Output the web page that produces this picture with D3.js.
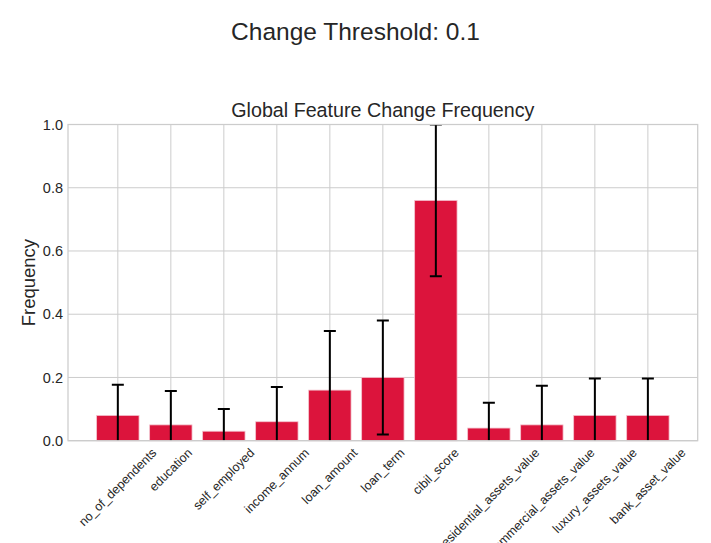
<!DOCTYPE html>
<html>
<head>
<meta charset="utf-8">
<script src="https://cdn.jsdelivr.net/npm/d3@7"></script>
<style>
  html, body { margin: 0; padding: 0; background: #fff; }
  svg { display: block; font-family: "Liberation Sans", Arial, sans-serif; }
</style>
</head>
<body>
<svg id="chart" width="711" height="543"></svg>
<script>
const categories = ["no_of_dependents", "education", "self_employed", "income_annum", "loan_amount",
  "loan_term", "cibil_score", "residential_assets_value", "commercial_assets_value",
  "luxury_assets_value", "bank_asset_value"];
const frequency = [0.08, 0.05, 0.03, 0.06, 0.16, 0.20, 0.76, 0.04, 0.05, 0.08, 0.08];
const stdDev = [0.097, 0.107, 0.07, 0.11, 0.187, 0.18, 0.24, 0.08, 0.124, 0.117, 0.117];
const yTicks = [0.0, 0.2, 0.4, 0.6, 0.8, 1.0];
const suptitle = "Change Threshold: 0.1";
const title = "Global Feature Change Frequency";
const yLabel = "Frequency";

const svg = d3.select("#chart");
const pLeft = 68, pRight = 697.7, pTop = 124.5, pBottom = 440.7;
const textColor = "#262626", gridColor = "#cccccc";

const x = d3.scaleBand().domain(categories).range([pLeft, pRight]).paddingInner(0.2).paddingOuter(0.54);
const y = d3.scaleLinear().domain([0, 1]).range([pBottom, pTop]);

svg.append("defs").append("clipPath").attr("id", "plotclip")
  .append("rect").attr("x", pLeft).attr("y", pTop).attr("width", pRight - pLeft).attr("height", pBottom - pTop);

// grid
const g = svg.append("g");
g.selectAll(".hgrid").data(yTicks).enter().append("line")
  .attr("x1", pLeft).attr("x2", pRight).attr("y1", d => y(d)).attr("y2", d => y(d))
  .attr("stroke", gridColor).attr("stroke-width", 1);
g.selectAll(".vgrid").data(categories).enter().append("line")
  .attr("x1", d => x(d) + x.bandwidth() / 2).attr("x2", d => x(d) + x.bandwidth() / 2)
  .attr("y1", pTop).attr("y2", pBottom)
  .attr("stroke", gridColor).attr("stroke-width", 1);

// bars
g.selectAll(".bar").data(categories).enter().append("rect")
  .attr("x", d => x(d)).attr("width", x.bandwidth())
  .attr("y", (d, i) => y(frequency[i])).attr("height", (d, i) => y(0) - y(frequency[i]))
  .attr("fill", "#dc143c").attr("stroke", "#f4c4cf").attr("stroke-width", 0.8);

// error bars
const eb = svg.append("g").attr("clip-path", "url(#plotclip)");
categories.forEach((c, i) => {
  const cx = x(c) + x.bandwidth() / 2;
  const lo = y(frequency[i] - stdDev[i]), hi = y(frequency[i] + stdDev[i]);
  eb.append("line").attr("x1", cx).attr("x2", cx).attr("y1", lo).attr("y2", hi)
    .attr("stroke", "#000").attr("stroke-width", 2);
  [lo, hi].forEach(yy => eb.append("line").attr("x1", cx - 6).attr("x2", cx + 6)
    .attr("y1", yy).attr("y2", yy).attr("stroke", "#000").attr("stroke-width", 2));
});

// spines
svg.append("rect").attr("x", pLeft).attr("y", pTop).attr("width", pRight - pLeft).attr("height", pBottom - pTop)
  .attr("fill", "none").attr("stroke", gridColor).attr("stroke-width", 1.25);

// y axis labels
const yAxis = d3.axisLeft(y).tickValues(yTicks).tickFormat(d3.format(".1f")).tickSize(0).tickPadding(5);
const ya = svg.append("g").attr("transform", `translate(${pLeft},0)`).call(yAxis);
ya.select(".domain").remove();
ya.selectAll("text").attr("font-size", 14.5).attr("fill", textColor)
  .attr("font-family", "Liberation Sans, Arial, sans-serif");

// x axis labels (rotated 45, centered bbox)
const xFont = 12.5;
const xa = svg.append("g");
categories.forEach(c => {
  const t = xa.append("text").text(c).attr("font-size", xFont).attr("fill", textColor)
    .attr("text-anchor", "middle").attr("dy", "0.32em");
  const w = t.node().getComputedTextLength();
  const h = xFont * 1.15;
  const half = 0.7071 * (w + h) / 2;
  const cx = x(c) + x.bandwidth() / 2;
  t.attr("transform", `translate(${cx},${pBottom + 5 + half}) rotate(-45)`);
});

// y label
svg.append("text").text(yLabel).attr("font-size", 18.5).attr("fill", textColor)
  .attr("text-anchor", "middle")
  .attr("transform", `translate(35,${(pTop + pBottom) / 2}) rotate(-90)`);

// titles
svg.append("text").text(title).attr("x", (pLeft + pRight) / 2).attr("y", 117)
  .attr("text-anchor", "middle").attr("font-size", 19.7).attr("fill", textColor);
svg.append("text").text(suptitle).attr("x", 355.5).attr("y", 39.5)
  .attr("text-anchor", "middle").attr("font-size", 24.5).attr("fill", textColor);
</script>
</body>
</html>
